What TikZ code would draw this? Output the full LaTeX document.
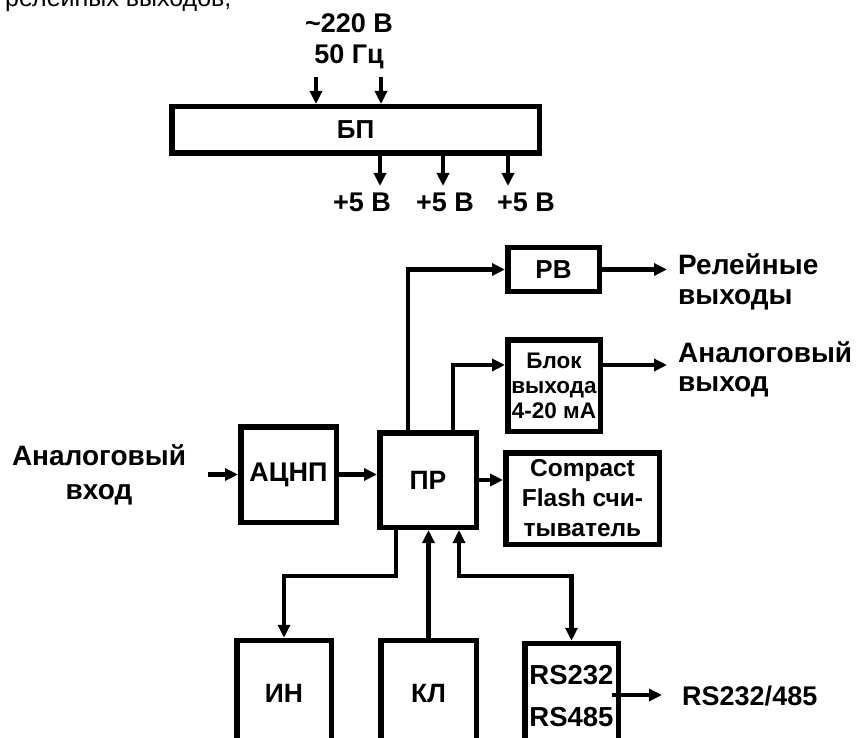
\documentclass[tikz,border=0pt]{standalone}
\usepackage{fontspec}
\setmainfont{Liberation Sans}
\usetikzlibrary{arrows.meta}
\begin{document}
\begin{tikzpicture}[x=1pt,y=-1pt,
  blk/.style={draw,line width=5.5pt,inner sep=0pt,font=\bfseries\fontsize{26}{30}\selectfont,align=center},
  lbl/.style={inner sep=0pt,font=\bfseries\fontsize{28}{32}\selectfont},
  vlbl/.style={inner sep=0pt,font=\bfseries\fontsize{27}{32}\selectfont},
  arr/.style={line width=4.5pt,-{Triangle[length=13pt,width=12pt]}},
  arrb/.style={line width=4.5pt,{Triangle[length=13pt,width=12pt]}-{Triangle[length=13pt,width=12pt]}}]
\useasboundingbox (0,0) rectangle (857,738);
% cut-off text at the top
\node[inner sep=0pt,anchor=base west,font=\fontsize{25}{30}\selectfont] (frag) at (5,7) {релейных выходов,};
% power supply
\node[blk,minimum width=367.5pt,minimum height=46.5pt] (bp) at (355.5,130) {БП};
\node[vlbl,anchor=base] (v220) at (349,33) {\textasciitilde220 В};
\node[vlbl,anchor=base] (hz) at (349,64) {50 Гц};
\coordinate (i1) at (316,77);
\coordinate (i2) at (381,77);
\draw[arr] (i1) -- (i1 |- bp.north);
\draw[arr] (i2) -- (i2 |- bp.north);
\coordinate (o1) at (380,186);
\coordinate (o2) at (443,186);
\coordinate (o3) at (508,186);
\draw[arr] (bp.south -| o1) -- (o1);
\draw[arr] (bp.south -| o2) -- (o2);
\draw[arr] (bp.south -| o3) -- (o3);
\node[vlbl,anchor=base] (p1) at (362,212) {+5 В};
\node[vlbl,anchor=base] (p2) at (445,212) {+5 В};
\node[vlbl,anchor=base] (p3) at (526,212) {+5 В};
% blocks
\node[blk,minimum width=91.5pt,minimum height=43.5pt] (rv) at (553.5,269.5) {РВ};
\node[blk,minimum width=92.5pt,minimum height=91.5pt,font=\bfseries\fontsize{22.5}{25}\selectfont] (blok) at (554,385.5) {Блок\\выхода\\4-20 мА};
\node[blk,minimum width=95.5pt,minimum height=95.5pt,font=\bfseries\fontsize{27}{30}\selectfont] (adc) at (288.5,474.5) {АЦНП};
\node[blk,minimum width=96.5pt,minimum height=94.5pt,font=\bfseries\fontsize{26.5}{30}\selectfont] (pr) at (428,480) {ПР};
\node[blk,minimum width=153.5pt,minimum height=91.5pt,font=\bfseries\fontsize{24.5}{30}\selectfont] (cf) at (582.5,498.5) {Compact\\Flash счи-\\тыватель};
\node[blk,minimum width=94.5pt,minimum height=105pt,font=\bfseries\fontsize{26.5}{30}\selectfont] (ind) at (284,693) {ИН};
\node[blk,minimum width=95.5pt,minimum height=105pt,font=\bfseries\fontsize{26.5}{30}\selectfont] (kl) at (428.5,693) {КЛ};
\node[blk,minimum width=93.5pt,minimum height=105pt,font=\bfseries\fontsize{27.5}{42}\selectfont] (rs) at (571.5,696) {RS232\\RS485};
% labels
\node[lbl,anchor=base west] (rl1) at (678,275) {Релейные};
\node[lbl,anchor=base west] (rl2) at (678,304) {выходы};
\node[lbl,anchor=base west] (al1) at (678,362) {Аналоговый};
\node[lbl,anchor=base west] (al2) at (678,391) {выход};
\node[lbl,anchor=base] (ai1) at (99,465) {Аналоговый};
\node[lbl,anchor=base] (ai2) at (99,499) {вход};
\node[vlbl,anchor=base west] (rsl) at (682,705) {RS232/485};
% connectors
\coordinate (t1) at (408,269.5);
\coordinate (t2) at (453,365);
\draw[arr] (pr.north -| t1) -- (t1) -- (rv.west);
\draw[arr] (pr.north -| t2) -- (t2) -- (t2 -| blok.west);
\coordinate (e1) at (667,269.5);
\coordinate (e2) at (667,365);
\draw[arr] (rv.east) -- (e1);
\draw[arr] (blok.east |- e2) -- (e2);
\coordinate (ain) at (208,474.5);
\draw[arr] (ain) -- (adc.west);
\draw[arr] (adc.east) -- (adc.east -| pr.west);
\draw[arr] (pr.east) -- (pr.east -| cf.west);
\coordinate (b1) at (396,576);
\coordinate (b3) at (459,576);
\draw[arr] (pr.south -| b1) -- (b1) -| (ind.north);
\draw[arr] (kl.north) -- (kl.north |- pr.south);
\draw[arrb] (pr.south -| b3) -- (b3) -| (rs.north);
\coordinate (rsa) at (612,695);
\coordinate (rsb) at (662,695);
\draw[arr] (rsa) -- (rsb);
\end{tikzpicture}
\end{document}
